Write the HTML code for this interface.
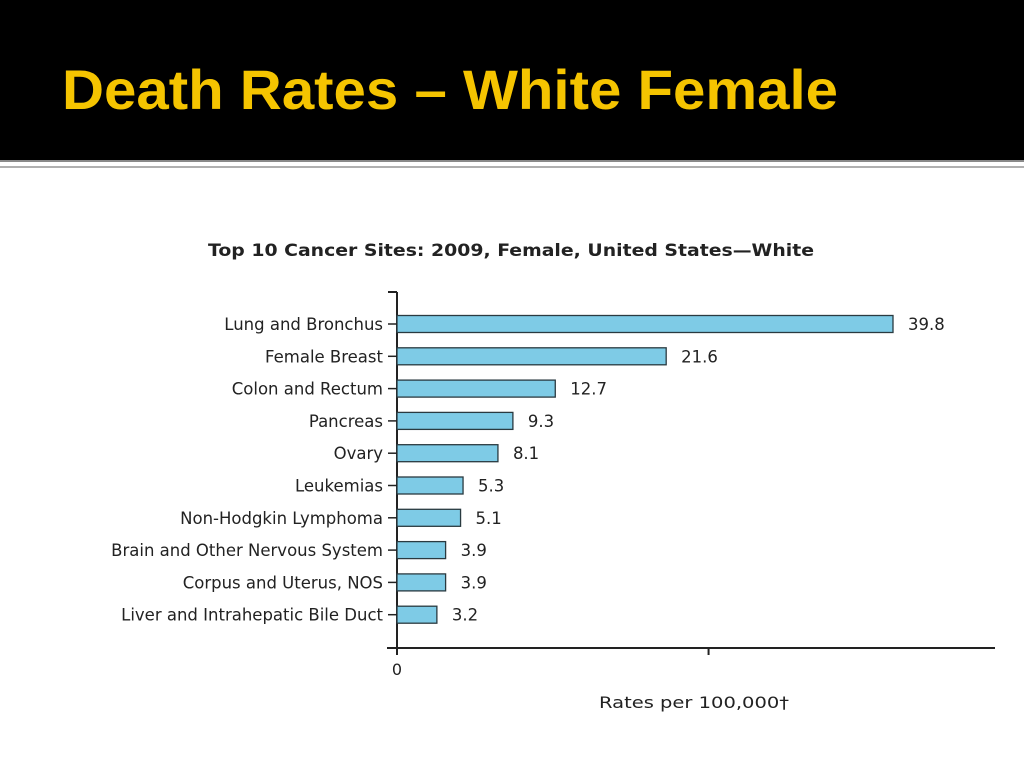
<!DOCTYPE html>
<html><head><meta charset="utf-8"><style>
html,body{margin:0;padding:0;background:#fff;}
body{width:1024px;height:768px;overflow:hidden;position:relative;font-family:"DejaVu Sans","Liberation Sans",sans-serif;}
</style></head><body>
<svg width="1024" height="768" xmlns="http://www.w3.org/2000/svg">
<rect x="0" y="0" width="1024" height="160" fill="#000"/>
<rect x="0" y="160" width="1024" height="2" fill="#8a8a8a"/>
<rect x="0" y="166" width="1024" height="2" fill="#b0b0b0"/>
<text x="62" y="109" fill="#f5c400" font-family="Liberation Sans, sans-serif" font-size="56" font-weight="bold" textLength="776" lengthAdjust="spacingAndGlyphs">Death Rates – White Female</text>
<text x="511" y="256" text-anchor="middle" font-size="17" font-weight="bold" fill="#222" textLength="606" lengthAdjust="spacingAndGlyphs">Top 10 Cancer Sites: 2009, Female, United States—White</text>
<g id="chart"></g>
<text x="694" y="708" text-anchor="middle" font-size="16" fill="#222" textLength="190" lengthAdjust="spacingAndGlyphs">Rates per 100,000†</text>
</svg>
<script>
const categories=["Lung and Bronchus","Female Breast","Colon and Rectum","Pancreas","Ovary","Leukemias","Non-Hodgkin Lymphoma","Brain and Other Nervous System","Corpus and Uterus, NOS","Liver and Intrahepatic Bile Duct"];
const values=[39.8,21.6,12.7,9.3,8.1,5.3,5.1,3.9,3.9,3.2];
const valueLabels=["39.8","21.6","12.7","9.3","8.1","5.3","5.1","3.9","3.9","3.2"];
const xTicks=[0,25];
const xTickLabels=["0",""];
const NS="http://www.w3.org/2000/svg";
const g=document.getElementById('chart');
const x0=397, pxPer=(893-397)/39.8;
const xs=v=>x0+v*pxPer;
const y0=324, step=32.3;
const ys=i=>y0+i*step;
function mk(t,a){const e=document.createElementNS(NS,t);for(const k in a)e.setAttribute(k,a[k]);g.appendChild(e);return e;}
let ax=mk('line',{x1:x0,y1:292,x2:x0,y2:648,stroke:'#222','stroke-width':2});


let tt=mk('line',{x1:x0-9,y1:292,x2:x0,y2:292,stroke:'#222','stroke-width':2});


let xa=mk('line',{x1:387,y1:648,x2:995,y2:648,stroke:'#222','stroke-width':2});


xTicks.forEach((t,i)=>{
  let l=mk('line',{x1:xs(t),y1:648,x2:xs(t),y2:655,stroke:'#222','stroke-width':2});
  
  
  if(xTickLabels[i]){let tx=mk('text',{x:xs(t),y:675,'text-anchor':'middle','font-size':16,fill:'#222'});tx.textContent=xTickLabels[i];
  
  }
});
categories.forEach((c,i)=>{
  const y=ys(i);
  let b=mk('rect',{x:x0,y:y-8.5,width:xs(values[i])-x0,height:17,fill:'#7ecbe6',stroke:'#2a3a40','stroke-width':1.3});
  
  
  let tk=mk('line',{x1:x0-9,y1:y,x2:x0,y2:y,stroke:'#222','stroke-width':1.5});
  
  
  let lb=mk('text',{x:x0-14,y:y+6,'text-anchor':'end','font-size':16.5,fill:'#222'});
  lb.textContent=c;
  
  
  let vl=mk('text',{x:xs(values[i])+15,y:y+6,'font-size':16.5,fill:'#222'});
  vl.textContent=valueLabels[i];
  
  
});
</script>
</body></html>
